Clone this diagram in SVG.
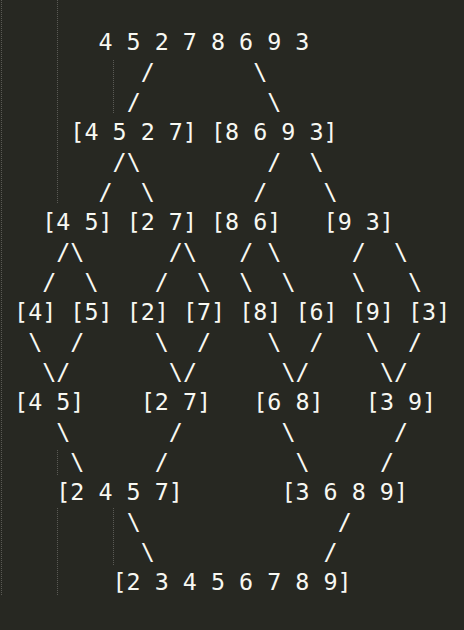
<svg xmlns="http://www.w3.org/2000/svg" width="464" height="630" viewBox="0 0 464 630">
<style>
  text { font-family: "DejaVu Sans Mono", "Liberation Mono", monospace; font-size: 23.37px; fill: #f8f8f2; white-space: pre; }
  .guide { stroke: #5a5a55; stroke-width: 1; stroke-dasharray: 1 1; fill: none; }
</style>
<rect width="464" height="630" fill="#272822"/>
<g id="indent-guides">
  <line class="guide" x1="1.5" y1="0" x2="1.5" y2="595"/>
  <line class="guide" x1="57.5" y1="0" x2="57.5" y2="203"/>
  <line class="guide" x1="57.5" y1="450" x2="57.5" y2="475"/>
  <line class="guide" x1="57.5" y1="508" x2="57.5" y2="595"/>
  <line class="guide" x1="113.5" y1="60" x2="113.5" y2="114"/>
  <line class="guide" x1="113.5" y1="508" x2="113.5" y2="565"/>
</g>
<g id="n-root"><text x="98.49" y="50">4 5 2 7 8 6 9 3</text></g>
<g id="n-4527"><text x="70.35" y="140">[4 5 2 7]</text></g>
<g id="n-8693"><text x="211.05" y="140">[8 6 9 3]</text></g>
<g id="n-45a"><text x="42.21" y="230">[4 5]</text></g>
<g id="n-27a"><text x="126.63" y="230">[2 7]</text></g>
<g id="n-86"><text x="211.05" y="230">[8 6]</text></g>
<g id="n-93"><text x="323.61" y="230">[9 3]</text></g>
<g id="n-4"><text x="14.07" y="320">[4]</text></g>
<g id="n-5"><text x="70.35" y="320">[5]</text></g>
<g id="n-2"><text x="126.63" y="320">[2]</text></g>
<g id="n-7"><text x="182.91" y="320">[7]</text></g>
<g id="n-8"><text x="239.19" y="320">[8]</text></g>
<g id="n-6"><text x="295.47" y="320">[6]</text></g>
<g id="n-9"><text x="351.75" y="320">[9]</text></g>
<g id="n-3"><text x="408.03" y="320">[3]</text></g>
<g id="n-45b"><text x="14.07" y="410">[4 5]</text></g>
<g id="n-27b"><text x="140.7" y="410">[2 7]</text></g>
<g id="n-68"><text x="253.26" y="410">[6 8]</text></g>
<g id="n-39"><text x="365.82" y="410">[3 9]</text></g>
<g id="n-2457"><text x="56.28" y="500">[2 4 5 7]</text></g>
<g id="n-3689"><text x="281.4" y="500">[3 6 8 9]</text></g>
<g id="n-sorted"><text x="112.56" y="590">[2 3 4 5 6 7 8 9]</text></g>
<g id="connectors">
  <text x="140.7 253.26" y="80">/\</text>
  <text x="126.63 267.33" y="110">/\</text>
  <text x="112.56 126.63 267.33 309.54" y="170">/\/\</text>
  <text x="98.49 140.7 253.26 323.61" y="200">/\/\</text>
  <text x="56.28 70.35 168.84 182.91 239.19 267.33 351.75 393.96" y="260">/\/\/\/\</text>
  <text x="42.21 84.42 154.77 196.98 239.19 281.4 351.75 408.03" y="290">/\/\\\\\</text>
  <text x="28.14 70.35 154.77 196.98 267.33 309.54 365.82 408.03" y="350">\/\/\/\/</text>
  <text x="42.21 56.28 168.84 182.91 281.4 295.47 379.89 393.96" y="380">\/\/\/\/</text>
  <text x="56.28 168.84 281.4 393.96" y="440">\/\/</text>
  <text x="70.35 154.77 295.47 379.89" y="470">\/\/</text>
  <text x="126.63 337.68" y="530">\/</text>
  <text x="140.7 323.61" y="560">\/</text>
</g>
</svg>
